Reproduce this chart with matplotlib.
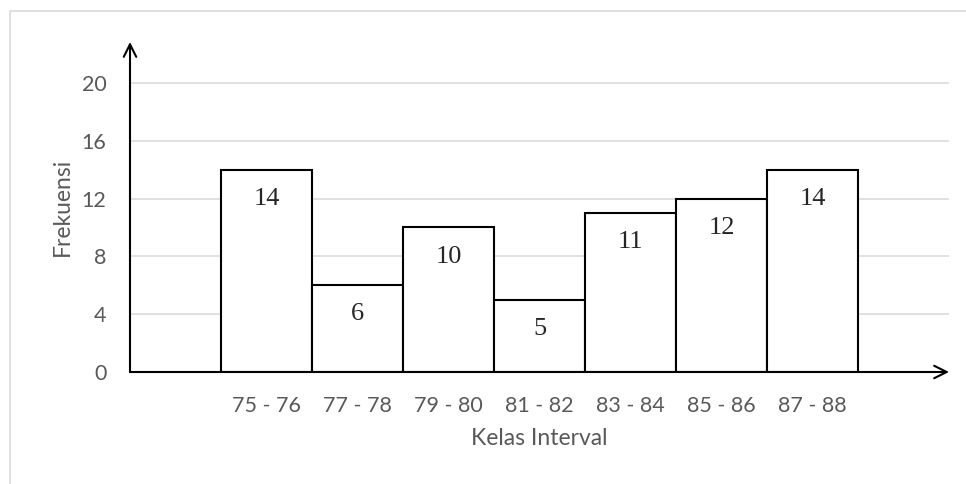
import numpy as np
import matplotlib
matplotlib.use("Agg")
import matplotlib.pyplot as plt
from matplotlib.patches import Rectangle

kelas = ["75 - 76", "77 - 78", "79 - 80", "81 - 82", "83 - 84", "85 - 86", "87 - 88"]
frekuensi = [14, 6, 10, 5, 11, 12, 14]
y_ticks = [0, 4, 8, 12, 16, 20]

W, H = 966, 484
TEKS = "#595959"

plt.rcParams['font.family'] = ['Lato', 'DejaVu Sans']

fig = plt.figure(figsize=(W / 100, H / 100), dpi=100)
fig.patch.set_facecolor("white")

# bingkai grafik (terpotong di kanan dan bawah)
fig.patches.append(Rectangle((9.5 / W, -0.1), 1.2, 1 - 11.5 / H + 0.1,
                             transform=fig.transFigure, fill=False,
                             edgecolor="#d9d9d9", linewidth=1.2))

kiri, kanan = 130 / W, 949 / W
bawah, atas = (H - 372) / H, (H - 42) / H
ax = fig.add_axes([kiri, bawah, kanan - kiri, atas - bawah])

x = np.arange(1, len(kelas) + 1)
ax.bar(x, frekuensi, width=1.0, color="white", edgecolor="black",
       linewidth=1.5, zorder=3)

for xi, f in zip(x, frekuensi):
    ax.annotate(str(f), (xi, f), xytext=(0, -21), textcoords="offset points",
                ha="center", va="center", fontsize=19,
                family="Liberation Serif", color="#262626", zorder=4)

ax.set_xlim(-0.5, len(kelas) + 1.5)
ax.set_ylim(0, 22.83)
ax.set_xticks(x)
ax.set_xticklabels(kelas)
ax.set_yticks(y_ticks)
ax.tick_params(length=0, labelsize=15.5, labelcolor=TEKS)
ax.tick_params(axis="x", pad=17)
ax.tick_params(axis="y", pad=17)

ax.grid(axis="y", color="#d9d9d9", linewidth=1.1, zorder=0)
ax.set_axisbelow(True)
for s in ax.spines.values():
    s.set_visible(False)

# sumbu dengan panah terbuka
panah = dict(arrowstyle="->,head_length=0.9,head_width=0.45", color="black",
             linewidth=1.5, shrinkA=0, shrinkB=0)
ax.annotate("", xy=(0, 1), xytext=(0, 0), xycoords="axes fraction",
            arrowprops=panah, zorder=5)
ax.annotate("", xy=(1, 0), xytext=(0, 0), xycoords="axes fraction",
            arrowprops=panah, zorder=5)

ax.set_xlabel("Kelas Interval", fontsize=16.5, color=TEKS, labelpad=9)
ax.set_ylabel("Frekuensi", fontsize=16.5, color=TEKS, labelpad=6)

fig.savefig("out.png", dpi=100)
